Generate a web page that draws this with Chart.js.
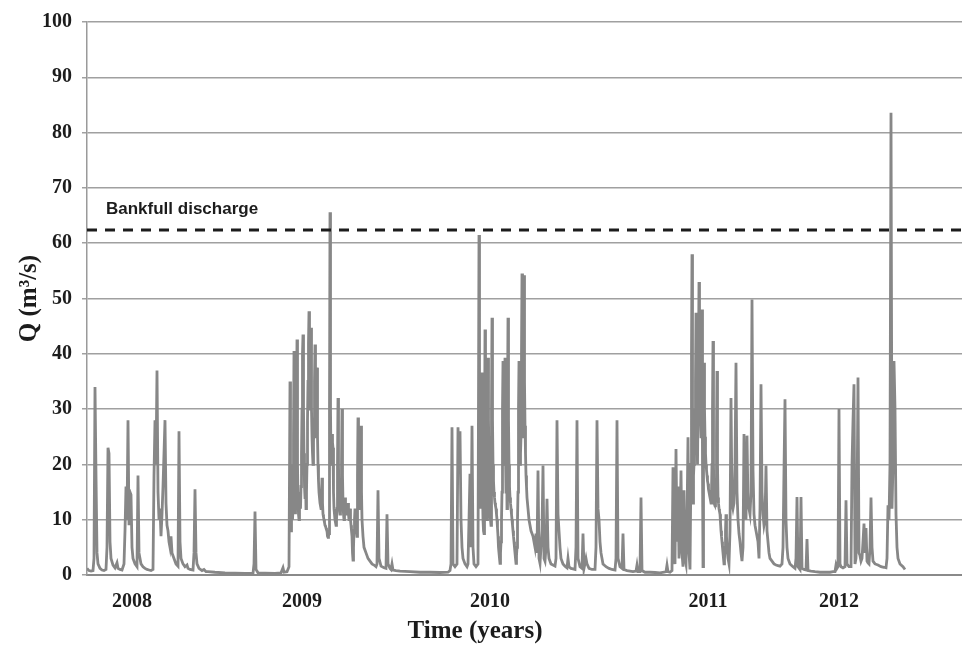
<!DOCTYPE html>
<html><head><meta charset="utf-8">
<script src="https://cdn.jsdelivr.net/npm/chart.js@4.4.1/dist/chart.umd.min.js"></script>
<style>html,body{margin:0;padding:0;background:#fff;}#wrap{width:962px;height:645px;}</style>
</head><body><div id="wrap"><canvas id="c" width="962" height="645"></canvas></div>
<script>
// [time index (approx. 2-day steps from the start of the record), Q (m3/s)]
const flow2008 = [[0,1.2],[2,0.8],[4,0.7],[6,0.8],[7,3],[8,34],[9,18],[10,4],[11,2],[13,1.2],[15,0.9],[17,0.8],[19,1],[20,5],[21,23],[22,22],[23,6],[24,3],[26,1.8],[28,1.3],[30,2.2],[31,1.2],[33,1],[35,0.9],[37,2],[38,8],[39,16],[40,10],[41,28],[42,9],[43,15],[44,14.5],[45,5],[46,3],[48,2],[50,1.5],[51,18],[52,4],[54,2],[56,1.5],[58,1.2],[60,1],[62,0.9],[64,0.8],[66,1],[67,18],[68,28],[69,20],[70,37],[71,15],[72,10],[73,12],[74,7],[75,11],[76,16],[77,22],[78,28],[79,13],[80,9],[81,8],[82,6],[83,5],[84,7],[85,4],[87,3],[89,2],[91,1.6],[92,26],[93,6],[94,3],[96,2],[98,1.5],[100,1.8],[101,1.2],[103,1],[106,0.9],[107,4],[108,15.5],[109,4],[110,2],[112,1.2],[115,0.8],[117,1],[119,0.6]];
const low2008 = [[121,0.6],[128,0.5],[138,0.4],[148,0.35],[158,0.3],[166,0.3],[167,2],[168,11.5],[169,1],[171,0.4],[178,0.35],[188,0.3],[194,0.4],[196,1.3],[197,0.5],[200,0.6],[202,1.5]];
const flow2009 = [[203,35],[203.5,10],[204,8],[204.5,20],[205,17.5],[205.5,10],[206,12],[206.5,25],[207,40.5],[207.5,18],[208,15],[208.5,11],[209,18],[209.5,30],[210,42.6],[210.5,20],[211,14],[211.5,11],[212,10],[212.5,15],[213,13],[213.5,12],[214,16],[214.5,22],[215,30],[215.5,40],[216,43.5],[216.5,30],[217,22],[217.5,16],[218,14],[218.5,18],[219,12],[219.5,15],[220,20],[220.5,28],[221,35],[221.5,42],[222,47.7],[222.5,35],[223,30],[223.5,38],[224,44.7],[224.5,30],[225,25],[225.5,22],[226,20],[226.5,24],[227,28],[227.5,35],[228,41.7],[228.5,30],[229,25],[229.5,30],[230,37.5],[230.5,25],[231,20],[231.5,17],[232,15],[232.5,14],[233,13],[233.5,12.5],[234,12],[234.5,14],[235,17.6],[235.5,13],[236,11],[236.5,10.5],[237,10],[237.5,9.5],[238,9],[238.5,8.8],[239,8.5],[239.5,8.2],[240,8],[240.5,7],[241,6.8],[241.5,7],[242,7.5],[242.5,30],[243,65.6],[243.5,30],[244,20],[244.5,22],[245,25.5],[245.5,24],[246,23],[246.5,15],[247,12],[247.5,11],[248,10],[248.5,9.5],[249,9],[249.5,10],[250,12],[250.5,20],[251,32],[251.5,20],[252,13],[252.5,12],[253,11],[253.5,11.5],[254,12],[254.5,20],[255,30],[255.5,18],[256,13],[256.5,11],[257,10],[257.5,12],[258,14],[258.5,13],[259,12],[259.5,11.5],[260,11],[260.5,12],[261,13],[261.5,11],[262,10],[262.5,11],[263,12],[263.5,10],[264,9],[264.5,8],[265,7],[265.5,4],[266,2.7],[266.5,5],[267,8],[267.5,10],[268,12],[268.5,10],[269,9],[269.5,8],[270,7],[270.5,18],[271,28.5],[271.5,20],[272,15],[272.5,13],[273,12],[273.5,18],[274,27],[274.5,15],[275,10],[276,7],[277,5],[279,4],[281,3],[283,2.5],[285,2],[287,1.8],[289,1.5],[290,2],[291,15.3],[292,3],[294,1.6],[297,1.3],[299,1.2],[300,11],[301,2],[303,1.2],[304,1],[305,2],[306,0.9],[309,0.8]];
const low2009 = [[313,0.7],[323,0.6],[333,0.5],[343,0.5],[353,0.45],[361,0.5],[363,0.8]];
const flow2010 = [[364,2],[365,26.7],[366,2],[368,1.5],[370,2],[371,26.7],[372,20],[373,26],[374,10],[375,5],[376,3],[378,2],[380,1.5],[381,2],[382,10],[383,18.3],[384,5],[385,27],[386,5],[387,2],[389,1.5],[391,2],[392,61.5],[392.5,25],[393,15],[393.5,12],[394,20],[394.5,30],[395,36.6],[395.5,15],[396,10],[396.5,8],[397,7.5],[397.5,20],[398,44.4],[398.5,20],[399,12],[399.5,15],[400,10],[400.5,25],[401,39.3],[401.5,28],[402,20],[402.5,14],[403,11],[403.5,10],[404,9],[404.5,30],[405,46.5],[405.5,28],[406,20],[406.5,17],[407,15],[407.5,14],[408,13],[408.5,12.5],[409,12],[409.5,11],[410,10],[410.5,8.5],[411,7],[411.5,5],[412,4],[412.5,3],[413,2.1],[413.5,4],[414,6],[414.5,10],[415,15],[415.5,30],[416,38.7],[416.5,25],[417,20],[417.5,30],[418,39.3],[418.5,22],[419,15],[419.5,25],[420,12],[420.5,30],[421,46.5],[421.5,28],[422,20],[422.5,16],[423,14],[423.5,13],[424,12],[424.5,11],[425,10],[425.5,9],[426,8],[426.5,7],[427,6],[427.5,5],[428,4],[428.5,3],[429,2.1],[429.5,3.5],[430,5],[430.5,10],[431,15],[431.5,30],[432,38.7],[432.5,25],[433,20],[433.5,22],[434,25],[434.5,40],[435,54.5],[435.5,30],[436,25],[436.5,40],[437,54.2],[437.5,35],[438,27],[438.5,22],[439,18],[439.5,16],[440,14],[441,12],[442,10],[443,9],[444,8],[445,7.5],[446,7],[447,6],[448,5],[449,7.5],[450,4],[451,18.9],[452,3],[453,2.1],[454,5],[455,8],[456,19.8],[457,3],[458,2.5],[459,5],[460,13.8],[461,5],[462,3],[464,2],[466,1.8],[468,1.6],[469,3],[470,28],[471,11],[472,8],[473,5],[474,3],[476,2],[478,1.6],[480,1.3],[481,3],[482,1.5],[484,1.2],[486,1.1],[488,1],[489,5],[490,28],[491,3],[493,1.5],[495,1.2],[496,7.5],[497,1.2],[499,3],[500,2],[502,1.2],[505,1],[508,1],[509,5],[510,28],[511,12],[512,10],[513,6],[514,4],[516,2],[519,1.5],[522,1.2],[525,1],[528,0.9],[529,3],[530,28],[531,3],[533,1.5],[535,1.2],[536,7.5],[537,1],[540,0.8],[543,0.7],[546,0.6],[549,0.7],[550,1.8],[551,0.6],[553,0.6],[554,14],[555,0.8],[558,0.5]];
const low2010 = [[563,0.5],[568,0.45],[573,0.4],[577,0.5],[579,0.6],[580,1.8],[581,0.6],[583,0.5],[585,0.8]];
const flow2011 = [[586,19.5],[587,3],[588,2],[589,22.8],[590,6],[591,16],[592,3],[593,8],[594,18.9],[595,4],[596,1.5],[597,15.3],[598,3],[599,2],[600,10],[601,24.9],[602,4],[603,1],[604,20],[604.5,40],[605,58],[605.5,25],[606,13],[606.5,18],[607,20],[607.5,30],[608,25],[608.5,35],[609,47.4],[609.5,30],[610,25],[610.5,20],[611,30],[611.5,40],[612,53],[612.5,40],[613,33],[613.5,28],[614,25],[614.5,35],[615,48],[615.5,20],[616,1.5],[616.5,20],[617,38.4],[617.5,30],[618,25],[618.5,22],[619,20],[619.5,19],[620,18],[620.5,17],[621,16.5],[621.5,15.5],[622,15],[622.5,14.5],[623,14],[623.5,13.5],[624,13],[624.5,15],[625,20],[625.5,30],[626,42.3],[626.5,20],[627,13],[627.5,12.8],[628,12.5],[628.5,13],[629,15],[629.5,25],[630,36.9],[630.5,20],[631,14],[631.5,13],[632,12],[632.5,11.5],[633,11],[633.5,9.5],[634,8],[634.5,7],[635,6],[635.5,5],[636,4],[636.5,3],[637,2],[637.5,3],[638,5],[638.5,8],[639,11],[639.5,7],[640,5],[641,3],[642,2],[643,8],[644,32],[645,13],[646,12],[647,13],[648,20],[649,38.4],[650,15],[651,10],[652,7.5],[653,6],[654,4],[655,2.5],[656,5],[657,25.5],[658,12],[659,10],[660,25.2],[661,13],[662,12],[663,11],[664,15],[665,49.8],[666,19],[667,11],[668,9],[669,8],[670,7],[671,6],[672,3],[673,12],[674,34.5],[675,15],[676,11],[677,9],[678,10],[679,19.8],[680,8],[681,6],[682,4],[683,3],[685,2.5],[687,2],[689,1.8],[691,1.7],[693,1.6],[695,2],[696,5],[697,19],[698,31.8],[699,10],[700,5],[701,3],[703,2],[706,1.5],[708,1.2],[709,3],[710,14.1],[711,1.5],[713,1],[714,14.1],[715,1.2],[717,1],[719,0.9],[720,6.5],[721,0.8],[724,0.7],[728,0.6],[733,0.5],[738,0.5],[743,0.5],[746,0.6]];
const flow2012 = [[748,0.6],[749,1.8],[750,1.2],[751,1.5],[752,30],[753,2],[754,1.5],[756,1.3],[758,1.5],[759,13.5],[760,2],[762,1.5],[764,1.5],[765,20],[766,27.9],[767,34.5],[768,2],[769,3],[770,12],[771,35.7],[772,4],[773,3.5],[774,2.5],[775,3],[776,6],[777,9.3],[778,4],[779,8.5],[780,2.5],[781,2.2],[782,2],[783,5],[784,14],[785,5],[786,2.5],[788,2],[791,1.8],[794,1.5],[797,1.4],[799,1.3],[800,3],[801,12.6],[802,10],[803,20],[804,83.6],[805,12],[806,20],[807,38.7],[808,30],[809,11],[810,5],[811,3],[813,2],[816,1.5],[818,1]];

const yearLabels = ['2008', '2009', '2010', '2011', '2012'];
const yearTicks = [45, 215, 403, 621, 752];
const bankfullQ = 62.4;
const tMax = 875;

const series = [].concat(flow2008, low2008, flow2009, low2009, flow2010, low2010, flow2011, flow2012)
  .map(p => ({x: p[0], y: p[1]}));
const serif = '"Liberation Serif", "Times New Roman", serif';

const textPlugin = {
  id: 'texts',
  afterDatasetsDraw(chart) {
    const {ctx, scales: {x, y}} = chart;
    ctx.save();
    ctx.fillStyle = '#1c1c1c';
    ctx.textAlign = 'left';
    ctx.textBaseline = 'middle';
    ctx.font = 'bold 17px "Liberation Sans", Arial, sans-serif';
    ctx.fillText('Bankfull discharge', x.getPixelForValue(19), y.getPixelForValue(bankfullQ) - 21);
    ctx.textAlign = 'center';
    ctx.font = 'bold 25px ' + serif;
    ctx.fillText('Time (years)', 475, 632);
    ctx.restore();
  }
};

new Chart(document.getElementById('c'), {
  type: 'line',
  data: {
    datasets: [
      {data: [{x: 0, y: bankfullQ}, {x: tMax, y: bankfullQ}], borderColor: '#1c1c1c', borderWidth: 3, borderDash: [10, 8], pointRadius: 0, order: 1},
      {data: series, borderColor: '#878787', borderWidth: 2.8, pointRadius: 0, tension: 0, order: 2}
    ]
  },
  options: {
    responsive: false,
    animation: false,
    layout: {padding: {left: 0, right: 0, top: 19, bottom: 0}},
    plugins: {legend: {display: false}, tooltip: {enabled: false}},
    scales: {
      x: {
        type: 'linear', min: 0, max: tMax,
        grid: {display: false, drawTicks: false},
        border: {display: true, color: '#8a8a8a', width: 2},
        afterBuildTicks: s => { s.ticks = yearTicks.map(v => ({value: v})); },
        ticks: {autoSkip: false, maxRotation: 0, padding: 15, color: '#1c1c1c',
          font: {family: serif, weight: 'bold', size: 20},
          callback: (v, i) => yearLabels[i]},
        afterFit: s => { s.height = 70; }
      },
      y: {
        min: 0, max: 100,
        ticks: {stepSize: 10, padding: 10, color: '#1c1c1c', font: {family: serif, weight: 'bold', size: 20}},
        grid: {color: '#a0a0a0', lineWidth: 1.5, tickLength: 5},
        border: {color: '#9a9a9a', width: 1.5},
        title: {display: true, text: 'Q (m³/s)', color: '#1c1c1c',
          font: {family: serif, weight: 'bold', size: 25, lineHeight: 1}, padding: {top: 17}},
        afterFit: s => { s.width = 87; }
      }
    }
  },
  plugins: [textPlugin]
});
</script>
</body></html>
